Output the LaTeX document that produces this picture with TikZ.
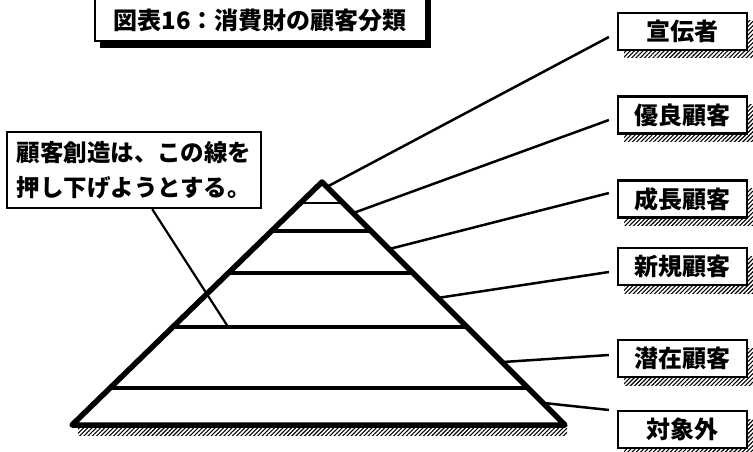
\documentclass[tikz,border=0pt]{standalone}
\usepackage{fontspec}
\setmainfont{Noto Sans CJK JP}
\usetikzlibrary{calc,shadows,patterns.meta}
\tikzset{
  hatch/.style={pattern={Lines[angle=45,distance=3pt,line width=1.1pt]}},
  lbl/.style={draw, line width=2.2pt, fill=white, minimum width=129pt, minimum height=37pt,
    inner sep=0pt, font=\fontsize{24}{24}\selectfont\bfseries,
    general shadow={hatch, shadow xshift=6pt, shadow yshift=-8pt}},
  conn/.style={line width=2.5pt},
  pyr/.style={line width=5.5pt, line join=round},
  tier/.style={line width=4pt},
  thintier/.style={line width=2.6pt},
  pointer/.style={line width=2.2pt},
  boxline/.style={draw, line width=2.2pt, fill=white},
}
\begin{document}
\begin{tikzpicture}[x=1pt,y=-1pt]
\useasboundingbox (0,0) rectangle (753,452);

% title
\node[boxline, minimum width=331pt, minimum height=52pt, inner sep=0pt,
  general shadow={fill=black, shadow xshift=5pt, shadow yshift=-7pt}] (titlebox) at (260.5,15) {};
\node[font=\fontsize{24}{24}\selectfont\bfseries, inner sep=0pt] (titletext) at (260,20) {図表16：消費財の顧客分類};

% label boxes
\node[lbl] (s1) at (682.5,31.5) {宣伝者};
\node[lbl] (s2) at (682.5,115) {優良顧客};
\node[lbl] (s3) at (682.5,199) {成長顧客};
\node[lbl] (s4) at (682.5,266.5) {新規顧客};
\node[lbl] (s5) at (682.5,358.5) {潜在顧客};
\node[lbl] (s6) at (682.5,429.5) {対象外};

% callout
\node[boxline, minimum width=254pt, minimum height=76pt, inner sep=0pt, align=left,
  font=\fontsize{23.5}{35}\selectfont\bfseries] (cbox) at (134,170) {顧客創造は、この線を\\押し下げようとする。};

% pyramid geometry
\coordinate (apex) at (322,182);
\coordinate (bl) at (72,425);
\coordinate (br) at (565,425);
\foreach \i/\t in {1/0.0864,2/0.2016,3/0.3745,4/0.5967,5/0.8477}{
  \coordinate (l\i) at ($(apex)!\t!(bl)$);
  \coordinate (r\i) at ($(apex)!\t!(br)$);
}
\foreach \i/\t in {1/0.02,2/0.128,3/0.276,4/0.477,5/0.741,6/0.909}{
  \coordinate (c\i) at ($(apex)!\t!(br)$);
}

% connectors
\draw[conn] (c1) -- ($(s1.west)+(-8,5.5)$);
\draw[conn] (c2) -- ($(s2.west)+(-8,5)$);
\draw[conn] (c3) -- ($(s3.west)+(-8,-6)$);
\draw[conn] (c4) -- ($(s4.west)+(-8,5.5)$);
\draw[conn] (c5) -- ($(s5.west)+(-8,-3.5)$);
\draw[conn] (c6) -- ($(s6.west)+(-8,-19.5)$);

% pointer from callout to the line
\draw[pointer] ($(cbox.south west)!0.571!(cbox.south east)$) -- ($(l4)!0.188!(r4)$);

% base shadow
\fill[hatch] ($(bl)+(6,3)$) rectangle ($(br)+(2,10)$);

% tiers
\draw[thintier] (l1) -- (r1);
\foreach \i in {2,3,4,5}{\draw[tier] (l\i) -- (r\i);}
\draw[pyr] (apex) -- (bl) -- (br) -- cycle;
\end{tikzpicture}
\end{document}
